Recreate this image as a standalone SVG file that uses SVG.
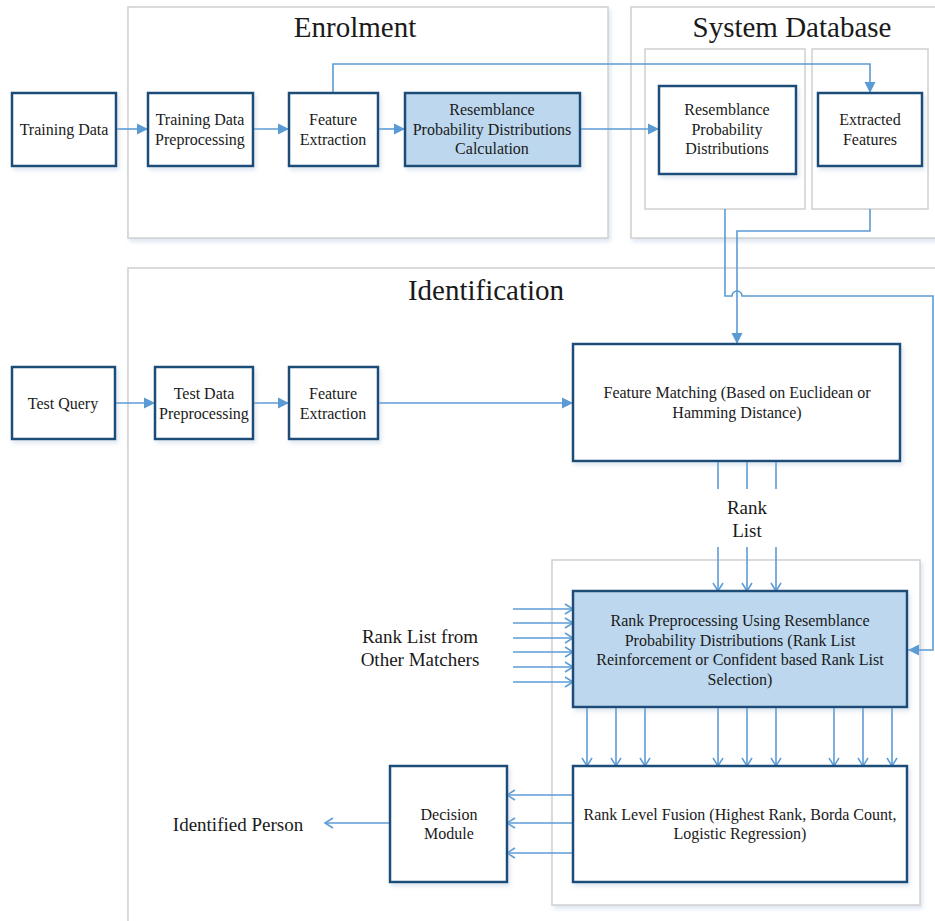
<svg xmlns="http://www.w3.org/2000/svg" width="935" height="921" viewBox="0 0 935 921">
<style>
.cont{fill:#ffffff;stroke:#d0d0d0;stroke-width:1.5}
.node{fill:#ffffff;stroke:#1f4e79;stroke-width:2.5}
.hl{fill:#bdd7ee}
.t{font-family:"Liberation Serif","Times New Roman",serif;font-size:16px;fill:#1a1a1a;text-anchor:middle}
.big{font-family:"Liberation Serif","Times New Roman",serif;font-size:19px;fill:#1a1a1a;text-anchor:middle}
.title{font-family:"Liberation Serif","Times New Roman",serif;font-size:29px;fill:#1a1a1a;text-anchor:middle}
.c{fill:none;stroke:#5b9bd5;stroke-width:1.6}
.f{marker-end:url(#af)}
.o{marker-end:url(#ao)}
</style>
<defs>
<filter id="sh" x="-10%" y="-10%" width="130%" height="130%">
<feDropShadow dx="2" dy="3" stdDeviation="2" flood-color="#9db7d6" flood-opacity="0.35"/>
</filter>
<marker id="af" markerWidth="12" markerHeight="12" refX="11" refY="6" orient="auto" markerUnits="userSpaceOnUse">
<path d="M0,0.5 L11,6 L0,11.5 z" fill="#5b9bd5"/>
</marker>
<marker id="ao" markerWidth="12" markerHeight="12" refX="9.5" refY="6" orient="auto" markerUnits="userSpaceOnUse">
<path d="M1.5,1 L9.5,6 L1.5,11" fill="none" stroke="#5b9bd5" stroke-width="1.5"/>
</marker>
</defs>
<rect width="935" height="921" fill="#ffffff"/>

<g id="enrolment">
<rect class="cont" x="128" y="7" width="480" height="231" filter="url(#sh)"/>
<text class="title" x="355" y="37">Enrolment</text>
</g>
<g id="system-database">
<rect class="cont" x="631" y="7" width="320" height="231" filter="url(#sh)"/>
<text class="title" x="792" y="37">System Database</text>
<rect class="cont" x="645" y="49" width="160" height="160"/>
<rect class="cont" x="812" y="49" width="116" height="160"/>
</g>
<g id="identification">
<rect class="cont" x="128" y="268" width="830" height="680" filter="url(#sh)"/>
<text class="title" x="486" y="300">Identification</text>
<rect class="cont" x="552" y="560" width="368" height="345" filter="url(#sh)"/>
</g>

<g id="connectors">
<path class="c f" d="M116,129 H148"/>
<path class="c f" d="M253,129 H289"/>
<path class="c f" d="M378,129 H405"/>
<path class="c f" d="M580,129 H659"/>
<path class="c f" d="M333,93 V64 H870 V93"/>
<path class="c f" d="M725,209 V296 H732 A5,5 0 0 1 742,296 H933 V650 H908"/>
<path class="c f" d="M870,209 V231 H737 V344"/>
<path class="c f" d="M115,403 H155"/>
<path class="c f" d="M253,403 H289"/>
<path class="c f" d="M378,403 H573"/>
<path class="c" d="M718,461 V489 M747,461 V489 M776,461 V489"/>
<path class="c o" d="M718,547 V591"/>
<path class="c o" d="M747,547 V591"/>
<path class="c o" d="M776,547 V591"/>
<path class="c o" d="M513,609 H573"/>
<path class="c o" d="M513,623 H573"/>
<path class="c o" d="M513,638 H573"/>
<path class="c o" d="M513,652 H573"/>
<path class="c o" d="M513,667 H573"/>
<path class="c o" d="M513,682 H573"/>
<path class="c o" d="M587,707 V766"/>
<path class="c o" d="M616,707 V766"/>
<path class="c o" d="M645,707 V766"/>
<path class="c o" d="M718,707 V766"/>
<path class="c o" d="M747,707 V766"/>
<path class="c o" d="M776,707 V766"/>
<path class="c o" d="M834,707 V766"/>
<path class="c o" d="M863,707 V766"/>
<path class="c o" d="M892,707 V766"/>
<path class="c o" d="M573,795 H507"/>
<path class="c o" d="M573,823 H507"/>
<path class="c o" d="M573,853 H507"/>
<path class="c o" d="M390,823 H325"/>
</g>

<g id="training-data">
<rect class="node" x="12" y="93" width="104" height="73" filter="url(#sh)"/>
<text class="t" x="64" y="135">Training Data</text>
</g>
<g id="training-preprocessing">
<rect class="node" x="148" y="93" width="105" height="73" filter="url(#sh)"/>
<text class="t" x="200" y="125">Training Data</text>
<text class="t" x="200" y="145">Preprocessing</text>
</g>
<g id="feature-extraction-enrol">
<rect class="node" x="289" y="93" width="89" height="73" filter="url(#sh)"/>
<text class="t" x="333" y="125">Feature</text>
<text class="t" x="333" y="145">Extraction</text>
</g>
<g id="rpd-calculation">
<rect class="node hl" x="405" y="93" width="175" height="73" filter="url(#sh)"/>
<text class="t" x="492" y="115">Resemblance</text>
<text class="t" x="492" y="135">Probability Distributions</text>
<text class="t" x="492" y="154">Calculation</text>
</g>
<g id="rpd-db">
<rect class="node" x="659" y="86" width="137" height="88" filter="url(#sh)"/>
<text class="t" x="727" y="115">Resemblance</text>
<text class="t" x="727" y="135">Probability</text>
<text class="t" x="727" y="154">Distributions</text>
</g>
<g id="extracted-features">
<rect class="node" x="818" y="93" width="104" height="73" filter="url(#sh)"/>
<text class="t" x="870" y="125">Extracted</text>
<text class="t" x="870" y="145">Features</text>
</g>
<g id="test-query">
<rect class="node" x="12" y="367" width="103" height="72" filter="url(#sh)"/>
<text class="t" x="63" y="409">Test Query</text>
</g>
<g id="test-preprocessing">
<rect class="node" x="155" y="367" width="98" height="72" filter="url(#sh)"/>
<text class="t" x="204" y="399">Test Data</text>
<text class="t" x="204" y="419">Preprocessing</text>
</g>
<g id="feature-extraction-test">
<rect class="node" x="289" y="367" width="89" height="72" filter="url(#sh)"/>
<text class="t" x="333" y="399">Feature</text>
<text class="t" x="333" y="419">Extraction</text>
</g>
<g id="feature-matching">
<rect class="node" x="573" y="344" width="327" height="117" filter="url(#sh)"/>
<text class="t" x="737" y="398">Feature Matching (Based on Euclidean or</text>
<text class="t" x="737" y="418">Hamming Distance)</text>
</g>
<g id="rank-list-label">
<text class="big" x="747" y="514">Rank</text>
<text class="big" x="747" y="537">List</text>
</g>
<g id="other-matchers-label">
<text class="big" x="420" y="643">Rank List from</text>
<text class="big" x="420" y="666">Other Matchers</text>
</g>
<g id="rank-preprocessing">
<rect class="node hl" x="573" y="591" width="334" height="116" filter="url(#sh)"/>
<text class="t" x="740" y="626">Rank Preprocessing Using Resemblance</text>
<text class="t" x="740" y="646">Probability Distributions (Rank List</text>
<text class="t" x="740" y="665">Reinforcement or Confident based Rank List</text>
<text class="t" x="740" y="685">Selection)</text>
</g>
<g id="rank-level-fusion">
<rect class="node" x="573" y="766" width="334" height="116" filter="url(#sh)"/>
<text class="t" x="740" y="820">Rank Level Fusion (Highest Rank, Borda Count,</text>
<text class="t" x="740" y="839">Logistic Regression)</text>
</g>
<g id="decision-module">
<rect class="node" x="390" y="766" width="117" height="116" filter="url(#sh)"/>
<text class="t" x="449" y="820">Decision</text>
<text class="t" x="449" y="839">Module</text>
</g>
<g id="identified-person">
<text class="big" x="238" y="831">Identified Person</text>
</g>
</svg>
